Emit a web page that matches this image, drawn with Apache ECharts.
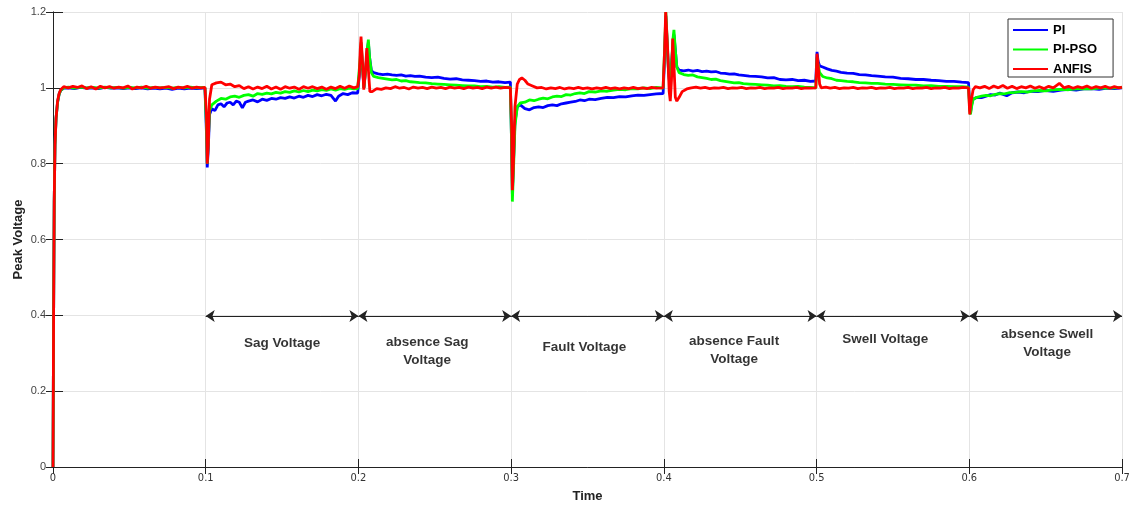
<!DOCTYPE html>
<html><head><meta charset="utf-8">
<script src="https://cdn.jsdelivr.net/npm/echarts@6/dist/echarts.min.js"></script>
<style>html,body{margin:0;padding:0;background:#fff}#c{width:1132px;height:506px}</style>
</head><body><div id="c"></div>
<script>
// ---------- data (time [s], peak voltage [pu]) ----------
const piData = [
[0,0],[0.0004,0.4],[0.0008,0.7],[0.0013,0.85],[0.002,0.92],[0.003,0.962],[0.004,0.983],[0.005,0.993],[0.007,0.999],[0.01,1.0],[0.014,0.998],[0.018,1.001],[0.022,0.999],[0.026,1.0],[0.03,0.998],[0.034,1.001],[0.038,0.999],[0.042,1.0],[0.046,0.998],[0.05,1.0],[0.054,0.998],[0.058,1.0],[0.062,0.997],[0.066,0.999],[0.07,0.997],[0.074,0.999],[0.078,0.996],[0.082,0.999],[0.086,0.997],[0.09,0.999],[0.094,0.998],[0.098,0.999],[0.0995,0.999],
[0.1005,0.88],[0.101,0.79],[0.1017,0.84],[0.1025,0.93],[0.104,0.945],[0.106,0.94],[0.108,0.955],[0.11,0.958],[0.112,0.95],[0.114,0.96],[0.116,0.962],[0.118,0.955],[0.12,0.965],[0.122,0.962],[0.124,0.947],[0.126,0.962],[0.128,0.965],[0.131,0.968],[0.134,0.963],[0.137,0.97],[0.14,0.967],[0.143,0.972],[0.146,0.97],[0.149,0.974],[0.152,0.972],[0.155,0.976],[0.158,0.973],[0.161,0.978],[0.164,0.975],[0.167,0.98],[0.17,0.977],[0.173,0.982],[0.176,0.979],[0.179,0.983],[0.182,0.98],[0.185,0.965],[0.187,0.978],[0.19,0.985],[0.193,0.982],[0.196,0.987],[0.1995,0.986],
[0.2005,0.99],[0.2012,1.06],[0.2018,1.11],[0.2026,1.06],[0.2036,1.0],[0.2048,1.05],[0.2058,1.1],[0.2065,1.12],[0.2073,1.08],[0.2085,1.045],[0.21,1.04],[0.213,1.037],[0.216,1.035],[0.219,1.036],[0.222,1.034],[0.225,1.033],[0.228,1.034],[0.231,1.031],[0.234,1.032],[0.237,1.03],[0.24,1.031],[0.244,1.028],[0.248,1.027],[0.252,1.028],[0.256,1.025],[0.26,1.023],[0.264,1.024],[0.268,1.021],[0.272,1.02],[0.276,1.019],[0.28,1.017],[0.284,1.018],[0.288,1.015],[0.292,1.016],[0.296,1.014],[0.2995,1.015],
[0.3003,0.85],[0.3008,0.72],[0.3015,0.8],[0.3025,0.91],[0.304,0.95],[0.306,0.955],[0.309,0.945],[0.312,0.942],[0.315,0.948],[0.318,0.95],[0.321,0.948],[0.324,0.953],[0.327,0.955],[0.33,0.953],[0.333,0.958],[0.336,0.96],[0.339,0.962],[0.342,0.964],[0.345,0.968],[0.348,0.966],[0.351,0.97],[0.355,0.969],[0.359,0.972],[0.363,0.975],[0.367,0.974],[0.371,0.977],[0.375,0.976],[0.379,0.979],[0.383,0.981],[0.387,0.98],[0.391,0.982],[0.395,0.984],[0.3995,0.985],
[0.4005,1.08],[0.4013,1.19],[0.402,1.13],[0.403,1.05],[0.404,1.0],[0.405,1.06],[0.406,1.12],[0.4066,1.14],[0.4075,1.1],[0.4085,1.055],[0.41,1.047],[0.413,1.045],[0.416,1.047],[0.419,1.044],[0.422,1.046],[0.425,1.043],[0.428,1.044],[0.431,1.042],[0.434,1.043],[0.437,1.039],[0.44,1.038],[0.443,1.036],[0.446,1.037],[0.449,1.034],[0.452,1.033],[0.456,1.031],[0.46,1.03],[0.464,1.029],[0.468,1.026],[0.472,1.027],[0.476,1.022],[0.48,1.021],[0.484,1.022],[0.488,1.019],[0.492,1.02],[0.496,1.017],[0.4995,1.018],
[0.5003,1.095],[0.501,1.07],[0.502,1.058],[0.504,1.055],[0.507,1.05],[0.51,1.046],[0.513,1.044],[0.516,1.041],[0.52,1.039],[0.524,1.038],[0.528,1.035],[0.532,1.034],[0.536,1.032],[0.54,1.031],[0.545,1.029],[0.55,1.028],[0.555,1.025],[0.56,1.024],[0.565,1.022],[0.57,1.022],[0.575,1.02],[0.58,1.019],[0.585,1.017],[0.59,1.017],[0.595,1.015],[0.5995,1.014],
[0.6003,0.95],[0.6008,0.935],[0.6015,0.955],[0.6025,0.97],[0.605,0.975],[0.608,0.974],[0.611,0.978],[0.614,0.982],[0.617,0.981],[0.62,0.986],[0.6245,0.979],[0.628,0.987],[0.632,0.989],[0.636,0.987],[0.64,0.991],[0.645,0.99],[0.65,0.993],[0.655,0.991],[0.66,0.994],[0.665,0.996],[0.67,0.994],[0.675,0.997],[0.68,0.998],[0.685,0.996],[0.69,0.999],[0.695,0.998],[0.7,1.0]
];
const piPsoData = [
[0,0],[0.0004,0.4],[0.0008,0.7],[0.0013,0.85],[0.002,0.92],[0.003,0.962],[0.004,0.983],[0.005,0.993],[0.007,1.0],[0.01,1.002],[0.014,0.999],[0.018,1.002],[0.022,1.0],[0.026,1.001],[0.03,0.999],[0.034,1.002],[0.038,1.0],[0.042,1.001],[0.046,0.999],[0.05,1.001],[0.054,1.0],[0.058,1.002],[0.062,0.999],[0.066,1.001],[0.07,1.0],[0.074,1.001],[0.078,0.999],[0.082,1.001],[0.086,1.0],[0.09,1.002],[0.094,1.0],[0.098,1.001],[0.0995,1.0],
[0.1005,0.9],[0.101,0.80],[0.1017,0.86],[0.1025,0.94],[0.104,0.955],[0.107,0.965],[0.11,0.972],[0.113,0.97],[0.116,0.976],[0.119,0.978],[0.122,0.975],[0.125,0.98],[0.128,0.982],[0.131,0.978],[0.134,0.985],[0.137,0.983],[0.14,0.986],[0.143,0.984],[0.146,0.988],[0.149,0.986],[0.152,0.99],[0.155,0.988],[0.158,0.992],[0.161,0.989],[0.164,0.993],[0.167,0.99],[0.17,0.994],[0.173,0.992],[0.176,0.995],[0.179,0.993],[0.182,0.997],[0.185,0.994],[0.188,0.998],[0.191,0.996],[0.194,0.999],[0.197,0.997],[0.1995,0.998],
[0.2005,1.0],[0.2012,1.08],[0.2018,1.12],[0.2026,1.06],[0.2036,1.0],[0.2048,1.05],[0.2058,1.1],[0.2065,1.127],[0.2073,1.08],[0.2085,1.04],[0.21,1.03],[0.213,1.027],[0.216,1.025],[0.219,1.023],[0.222,1.021],[0.225,1.022],[0.228,1.018],[0.231,1.019],[0.234,1.016],[0.237,1.015],[0.24,1.014],[0.244,1.013],[0.248,1.011],[0.252,1.01],[0.256,1.009],[0.26,1.008],[0.264,1.007],[0.268,1.006],[0.272,1.005],[0.276,1.005],[0.28,1.003],[0.284,1.004],[0.288,1.002],[0.292,1.003],[0.296,1.001],[0.2995,1.002],
[0.3003,0.85],[0.3008,0.70],[0.3015,0.78],[0.3025,0.9],[0.304,0.95],[0.306,0.96],[0.309,0.962],[0.312,0.968],[0.315,0.966],[0.318,0.97],[0.321,0.973],[0.324,0.971],[0.327,0.976],[0.33,0.978],[0.333,0.977],[0.336,0.982],[0.339,0.981],[0.342,0.985],[0.345,0.987],[0.348,0.985],[0.351,0.99],[0.355,0.989],[0.359,0.992],[0.363,0.991],[0.367,0.994],[0.371,0.996],[0.375,0.995],[0.379,0.998],[0.383,0.997],[0.387,1.0],[0.391,0.998],[0.395,1.001],[0.3995,0.999],
[0.4005,1.1],[0.4013,1.2],[0.402,1.14],[0.403,1.05],[0.404,1.0],[0.405,1.06],[0.406,1.13],[0.4066,1.153],[0.4075,1.1],[0.4085,1.055],[0.41,1.04],[0.413,1.035],[0.416,1.033],[0.419,1.034],[0.422,1.029],[0.425,1.027],[0.428,1.025],[0.431,1.022],[0.434,1.023],[0.437,1.019],[0.44,1.017],[0.443,1.015],[0.446,1.013],[0.449,1.014],[0.452,1.011],[0.456,1.01],[0.46,1.009],[0.464,1.008],[0.468,1.007],[0.472,1.005],[0.476,1.006],[0.48,1.004],[0.484,1.003],[0.488,1.004],[0.492,1.002],[0.496,1.001],[0.4995,1.0],
[0.5003,1.08],[0.501,1.06],[0.502,1.04],[0.504,1.03],[0.507,1.026],[0.51,1.024],[0.513,1.02],[0.516,1.019],[0.52,1.017],[0.524,1.016],[0.528,1.014],[0.532,1.013],[0.536,1.012],[0.54,1.012],[0.545,1.01],[0.55,1.009],[0.555,1.008],[0.56,1.007],[0.565,1.007],[0.57,1.005],[0.575,1.006],[0.58,1.004],[0.585,1.004],[0.59,1.003],[0.595,1.003],[0.5995,1.002],
[0.6003,0.94],[0.6008,0.93],[0.6015,0.95],[0.6025,0.97],[0.605,0.975],[0.608,0.978],[0.611,0.98],[0.614,0.979],[0.617,0.983],[0.62,0.985],[0.623,0.984],[0.626,0.987],[0.63,0.988],[0.634,0.99],[0.638,0.989],[0.642,0.992],[0.646,0.993],[0.65,0.992],[0.655,0.995],[0.66,0.996],[0.665,0.995],[0.67,0.997],[0.675,0.998],[0.68,0.997],[0.685,0.999],[0.69,0.999],[0.695,1.0],[0.7,1.001]
];
const anfisData = [
[0,0],[0.0004,0.4],[0.0008,0.7],[0.0013,0.85],[0.002,0.92],[0.003,0.965],[0.004,0.985],[0.005,0.995],[0.007,1.003],[0.01,1.0],[0.013,1.004],[0.016,1.001],[0.019,1.005],[0.022,0.998],[0.025,1.003],[0.028,0.997],[0.031,1.004],[0.034,1.0],[0.037,1.003],[0.04,0.999],[0.043,1.002],[0.046,1.0],[0.049,1.005],[0.052,0.997],[0.055,1.002],[0.058,1.0],[0.061,1.004],[0.064,0.999],[0.067,1.002],[0.07,1.0],[0.073,1.001],[0.076,1.003],[0.079,0.998],[0.082,1.002],[0.085,1.0],[0.088,1.004],[0.091,0.999],[0.094,1.002],[0.097,1.0],[0.0995,1.001],
[0.1005,0.93],[0.101,0.80],[0.1017,0.85],[0.1025,0.97],[0.104,1.008],[0.107,1.013],[0.11,1.015],[0.113,1.008],[0.116,1.01],[0.119,1.003],[0.122,1.006],[0.125,0.998],[0.128,1.003],[0.131,0.997],[0.134,1.002],[0.137,0.998],[0.14,1.004],[0.143,0.997],[0.146,1.002],[0.149,0.996],[0.152,1.003],[0.155,0.999],[0.158,1.002],[0.161,0.996],[0.164,1.003],[0.167,0.999],[0.17,1.003],[0.173,0.998],[0.176,1.002],[0.179,0.996],[0.182,1.002],[0.185,0.998],[0.188,1.004],[0.191,0.999],[0.194,1.005],[0.197,1.0],[0.1995,1.003],
[0.2005,1.03],[0.2012,1.1],[0.2017,1.135],[0.2025,1.08],[0.2035,0.995],[0.2045,1.04],[0.2055,1.105],[0.2063,1.06],[0.2075,0.99],[0.209,0.99],[0.212,0.998],[0.215,0.996],[0.218,1.0],[0.221,0.998],[0.224,1.003],[0.227,0.999],[0.23,1.001],[0.233,0.997],[0.236,1.002],[0.239,0.999],[0.242,1.001],[0.245,0.998],[0.248,1.002],[0.251,0.999],[0.254,1.001],[0.257,0.998],[0.26,1.002],[0.263,0.999],[0.266,1.001],[0.269,0.998],[0.272,1.002],[0.275,0.999],[0.278,1.001],[0.281,0.998],[0.284,1.002],[0.287,0.999],[0.29,1.002],[0.293,0.999],[0.296,1.001],[0.2995,1.0],
[0.3003,0.9],[0.3008,0.73],[0.3015,0.8],[0.3025,0.95],[0.304,1.01],[0.3055,1.022],[0.307,1.026],[0.309,1.02],[0.311,1.01],[0.314,1.005],[0.317,1.0],[0.32,1.001],[0.323,0.997],[0.326,1.0],[0.329,0.998],[0.332,1.001],[0.335,0.997],[0.338,1.0],[0.341,0.998],[0.344,1.001],[0.347,0.998],[0.35,1.0],[0.353,0.997],[0.356,1.0],[0.359,0.998],[0.362,1.001],[0.365,0.998],[0.368,1.0],[0.371,0.997],[0.374,1.0],[0.377,0.998],[0.38,1.001],[0.383,0.998],[0.386,1.0],[0.389,0.998],[0.392,1.001],[0.395,0.999],[0.3995,1.0],
[0.4005,1.1],[0.4012,1.2],[0.4018,1.2],[0.4025,1.1],[0.4035,0.99],[0.4042,0.965],[0.405,1.02],[0.4058,1.13],[0.4066,1.06],[0.4075,0.975],[0.4085,0.965],[0.41,0.975],[0.412,0.99],[0.415,0.997],[0.418,1.0],[0.421,1.002],[0.424,0.999],[0.427,1.001],[0.43,0.998],[0.433,1.0],[0.436,0.999],[0.439,1.001],[0.442,0.998],[0.445,1.0],[0.448,0.999],[0.451,1.001],[0.454,0.998],[0.457,1.0],[0.46,0.999],[0.463,1.001],[0.466,0.998],[0.469,1.0],[0.472,0.999],[0.475,1.001],[0.478,0.998],[0.481,1.0],[0.484,0.999],[0.487,1.001],[0.49,0.998],[0.493,1.0],[0.496,0.999],[0.4995,1.0],
[0.5003,1.09],[0.501,1.06],[0.502,1.01],[0.503,1.0],[0.506,1.002],[0.509,0.999],[0.512,1.001],[0.515,0.998],[0.518,1.0],[0.521,0.999],[0.524,1.001],[0.527,0.998],[0.53,1.0],[0.533,0.999],[0.536,1.001],[0.539,0.998],[0.542,1.0],[0.545,0.999],[0.548,1.001],[0.551,0.998],[0.554,1.0],[0.557,0.999],[0.56,1.001],[0.563,0.998],[0.566,1.0],[0.569,0.999],[0.572,1.001],[0.575,0.998],[0.578,1.0],[0.581,0.999],[0.584,1.001],[0.587,0.998],[0.59,1.0],[0.593,0.999],[0.596,1.001],[0.5995,1.0],
[0.6003,0.93],[0.601,0.96],[0.6025,0.995],[0.604,1.003],[0.607,1.0],[0.61,1.004],[0.613,0.998],[0.616,1.005],[0.619,1.0],[0.622,1.006],[0.625,0.999],[0.628,1.004],[0.631,0.998],[0.634,1.003],[0.637,1.0],[0.64,1.005],[0.643,0.999],[0.646,1.003],[0.649,0.998],[0.652,1.004],[0.655,1.0],[0.659,1.012],[0.662,1.0],[0.665,1.004],[0.668,0.999],[0.671,1.003],[0.674,1.0],[0.677,1.005],[0.68,0.999],[0.683,1.003],[0.686,1.0],[0.689,1.004],[0.692,0.999],[0.695,1.003],[0.698,1.0],[0.7,1.002]
];
const seriesNames = ['PI', 'PI-PSO', 'ANFIS'];
const seriesColors = ['#0000FF', '#00FF00', '#FF0000'];
const arrowLevel = 0.398;
const arrowSegments = [[0.1,0.2],[0.2,0.3],[0.3,0.4],[0.4,0.5],[0.5,0.6],[0.6,0.7]];
const annotations = [
  [0.150, 0.325, 'Sag Voltage'],
  [0.245, 0.305, 'absence Sag\nVoltage'],
  [0.348, 0.317, 'Fault Voltage'],
  [0.446, 0.309, 'absence Fault\nVoltage'],
  [0.545, 0.338, 'Swell Voltage'],
  [0.651, 0.326, 'absence Swell\nVoltage']
];

// ---------- chart ----------
const chart = echarts.init(document.getElementById('c'), null, {renderer: 'canvas'});
const dataSets = [piData, piPsoData, anfisData];
const lineSeries = seriesNames.map((n, i) => ({
  name: n, type: 'line', data: dataSets[i], showSymbol: false, symbol: 'none',
  xAxisIndex: 0, yAxisIndex: 0, clip: true,
  lineStyle: {color: seriesColors[i], width: 2.8},
  itemStyle: {color: seriesColors[i]},
  emphasis: {disabled: true}, animation: false, z: 3 + i
}));
const frameAxisCommon = {
  axisLabel: {show: false}, splitLine: {show: false},
  axisLine: {show: true, lineStyle: {color: '#222', width: 1}},
  axisTick: {show: true, inside: true, length: 7, lineStyle: {color: '#222'}}
};
const option = {
  backgroundColor: '#fff',
  animation: false,
  grid: {left: 53, right: 10, top: 12, bottom: 39, containLabel: false, outerBoundsMode: 'none'},
  legend: {
    data: seriesNames, orient: 'vertical', left: 1008, top: 19,
    icon: 'rect', itemWidth: 35, itemHeight: 2, itemGap: 5.5,
    padding: [4, 16, 1, 5],
    borderColor: '#333', borderWidth: 1, backgroundColor: '#fff',
    textStyle: {fontFamily: 'Liberation Sans, Arial, sans-serif', fontWeight: 'bold', fontSize: 13, color: '#000', lineHeight: 14},
    selectedMode: false
  },
  xAxis: [{
    type: 'value', min: 0, max: 0.7, interval: 0.1, position: 'bottom',
    name: 'Time', nameLocation: 'middle', nameGap: 23, nameMoveOverlap: false,
    nameTextStyle: {fontFamily: 'Liberation Sans, Arial, sans-serif', fontWeight: 'bold', fontSize: 13, color: '#222'},
    axisLine: {show: true, lineStyle: {color: '#777', width: 1}},
    axisTick: {show: true, inside: true, length: 8, lineStyle: {color: '#222'}},
    axisLabel: {fontFamily: "'Liberation Sans Narrow', 'DejaVu Sans Condensed', sans-serif", fontSize: 11, color: '#333', margin: 6},
    splitLine: {show: true, lineStyle: {color: '#e4e4e4', width: 1}}
  }, Object.assign({type: 'value', min: 0, max: 0.7, interval: 0.1, position: 'top'}, frameAxisCommon)],
  yAxis: [{
    type: 'value', min: 0, max: 1.2, interval: 0.2, position: 'left',
    name: 'Peak Voltage', nameLocation: 'middle', nameGap: 28, nameMoveOverlap: false,
    nameTextStyle: {fontFamily: 'Liberation Sans, Arial, sans-serif', fontWeight: 'bold', fontSize: 13, color: '#222'},
    axisLine: {show: true, lineStyle: {color: '#777', width: 1}},
    axisTick: {show: true, inside: true, length: 10, lineStyle: {color: '#222'}},
    axisLabel: {fontFamily: 'Liberation Sans, Arial, sans-serif', fontSize: 11, color: '#444', margin: 7},
    splitLine: {show: true, lineStyle: {color: '#e4e4e4', width: 1}}
  }, Object.assign({type: 'value', min: 0, max: 1.2, interval: 0.2, position: 'right'}, frameAxisCommon)],
  series: lineSeries.concat([{
    name: 'annotations', type: 'scatter', xAxisIndex: 0, yAxisIndex: 0,
    symbolSize: 0, silent: true, z: 10,
    data: annotations.map(a => ({value: [a[0], a[1]], label: {formatter: a[2]}})),
    label: {show: true, position: 'inside', fontFamily: 'Liberation Sans, Arial, sans-serif', fontWeight: 'bold', fontSize: 13.5, color: '#000', lineHeight: 18, align: 'center'},
    markLine: {
      silent: true, symbol: ['arrow', 'arrow'], symbolSize: 9, animation: false,
      label: {show: false}, emphasis: {disabled: true},
      lineStyle: {color: '#222', width: 1.2, type: 'solid'},
      data: arrowSegments.map(s => [{coord: [s[0], arrowLevel]}, {coord: [s[1], arrowLevel]}])
    }
  }])
};
chart.setOption(option);
</script>
</body></html>
